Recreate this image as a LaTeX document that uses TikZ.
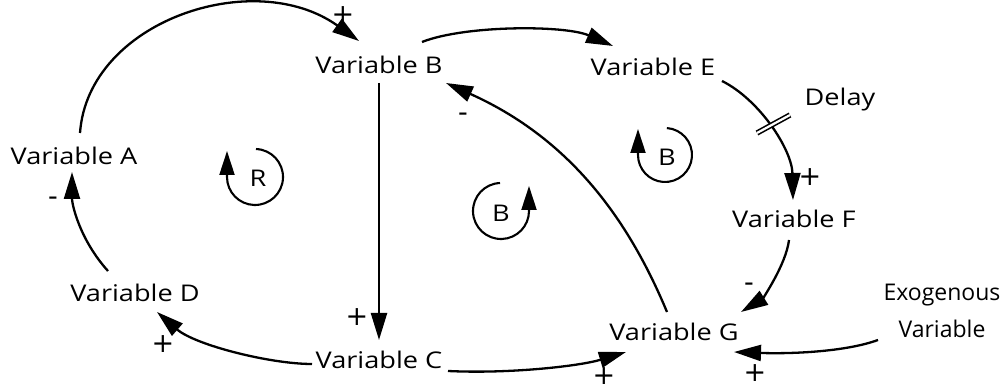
\documentclass[tikz,border=0pt]{standalone}
\usepackage{fontspec}
\setmainfont{Open Sans}[FakeStretch=1.18]
\newfontfamily\signfont{DejaVu Sans}
\newfontfamily\exofont{Open Sans}[FakeStretch=1.0]
\usetikzlibrary{arrows.meta,calc}
\begin{document}
\begin{tikzpicture}[x=1pt,y=-1pt,
  var/.style={font=\fontsize{23}{28}\selectfont, inner sep=0pt, text depth=0pt},
  sign/.style={font=\signfont\fontsize{27}{30}\selectfont, inner sep=0pt},
  link/.style={line width=2.3pt, -{Triangle[length=27pt,width=16pt]}},
  loopline/.style={line width=2.1pt, -{Triangle[length=24pt,width=15pt]}},
  delaymark/.style={line width=1.6pt, double, double distance=2.2pt}]
\useasboundingbox (0,0) rectangle (1004,387);
\fill[white] (0,0) rectangle (1004,387);
% variables
\node[var] (A) at (74,156) {Variable A};
\node[var] (B) at (379,65) {Variable B};
\node[var] (C) at (379,360) {Variable C};
\node[var] (D) at (135,293) {Variable D};
\node[var] (E) at (653,67) {Variable E};
\node[var] (F) at (794,219) {Variable F};
\node[var] (G) at (674,332) {Variable G};
\node[var, align=center, font=\exofont\fontsize{23}{37}\selectfont] (X) at (942,311) {Exogenous\\Variable};
\node[var] (DL) at (840,97) {Delay};
% links
\draw[link] ($(A)+(6,-23)$) .. controls (88,21) and (254,-34) .. ($(B)+(-20,-24)$);
\draw[link] ($(B)+(43,-23)$) .. controls (465,25) and (565,25) .. ($(E)+(-40,-21)$);
\draw[link] ($(B)+(0,18)$) -- ($(C)+(0,-20)$);
\draw[link] ($(C)+(-67,4)$) .. controls (270,364) and (195,345) .. ($(D)+(22,19)$);
\draw[link] ($(D)+(-27,-22)$) .. controls (80,240) and (72,205) .. ($(A)+(-2,16)$);
\draw[link] ($(C)+(69,11)$) .. controls (510,374) and (580,366) .. ($(G)+(-48,20)$);
\draw[link] ($(G)+(-7,-20)$) .. controls (625,211) and (564,136) .. ($(B)+(67,18)$);
\draw[link] ($(E)+(69,14)$) .. controls (760,100) and (792,150) .. ($(F)+(-1,-19)$);
\draw[link] ($(F)+(-5,21)$) .. controls (786,265) and (762,299) .. ($(G)+(67,-20)$);
\draw[link] ($(X)+(-64,29)$) .. controls (845,352) and (790,354) .. ($(G)+(60,20)$);
% delay mark
\draw[delaymark] (757,133) -- (790,115);
% polarities
\node[sign] (pAB) at (343,15) {+};
\node[sign] (pBC) at (357,317) {+};
\node[sign] (pCD) at (163,344) {+};
\node[sign] (pDA) at (53,201) {-};
\node[sign] (pCG) at (604,376) {+};
\node[sign] (pGB) at (463,117) {-};
\node[sign] (pEF) at (810,177) {+};
\node[sign] (pFG) at (749,287) {-};
\node[sign] (pXG) at (755,373) {+};
% loop symbols
\begin{scope}[shift={(255,177)}, x=1pt, y=1pt]
  \draw[loopline] (88:28) arc[start angle=88, end angle=-180, radius=28] -- ++(0,26);
  \node[var] (R1) at (3,-1) {R};
\end{scope}
\begin{scope}[shift={(501,211)}, x=1pt, y=1pt]
  \draw[loopline] (92:28) arc[start angle=92, end angle=360, radius=28] -- ++(0,25);
  \node[var] (B1) at (0,-2) {B};
\end{scope}
\begin{scope}[shift={(665,155)}, x=1pt, y=1pt]
  \draw[loopline] (86:27) arc[start angle=86, end angle=-180, radius=27] -- ++(0,26);
  \node[var] (B2) at (2,-2) {B};
\end{scope}
\end{tikzpicture}
\end{document}
